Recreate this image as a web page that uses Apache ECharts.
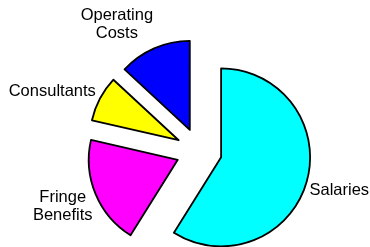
<!DOCTYPE html>
<html>
<head>
<meta charset="utf-8">
<script src="https://cdn.jsdelivr.net/npm/echarts@6/dist/echarts.min.js"></script>
<style>
  html, body { margin: 0; padding: 0; background: #fff; }
  #chart { width: 370px; height: 247px; }
</style>
</head>
<body>
<div id="chart"></div>
<script>
const categories = ['Salaries', 'Fringe\nBenefits', 'Consultants', 'Operating\nCosts'];
const values = [58.9, 19.7, 8.3, 13.1];
const colors = ['#00ffff', '#ff00ff', '#ffff00', '#0000ff'];

// per-slice label placement: [radial length, horizontal length2, text align]
const labelPlace = [[32, 26.7, 'right'], [32.5, -2.2, 'center'], [15, 29.5, 'center'], [26.6, 21.7, 'center']];

const chart = echarts.init(document.getElementById('chart'), null, { renderer: 'canvas' });

const data = categories.map((name, i) => ({
  name: name,
  value: values[i],
  selected: true,
  itemStyle: { color: colors[i] },
  labelLine: { show: false, length: labelPlace[i][0], length2: labelPlace[i][1] },
  select: { itemStyle: { color: colors[i], borderColor: '#000', borderWidth: 1.8 } }
}));

chart.setOption({
  animation: false,
  series: [{
    type: 'pie',
    center: [199, 151],
    radius: [0, 89],
    startAngle: 90,
    clockwise: true,
    selectedMode: 'multiple',
    selectedOffset: 23,
    avoidLabelOverlap: false,
    itemStyle: { borderColor: '#000', borderWidth: 1.8 },
    emphasis: { disabled: true },
    label: {
      show: true,
      position: 'outside',
      color: '#000',
      fontFamily: 'Liberation Sans, Arial, sans-serif',
      fontSize: 16.5,
      lineHeight: 18
    },
    labelLine: { show: false },
    labelLayout: function (params) {
      return { align: labelPlace[params.dataIndex][2] };
    },
    data: data
  }]
});
</script>
</body>
</html>
